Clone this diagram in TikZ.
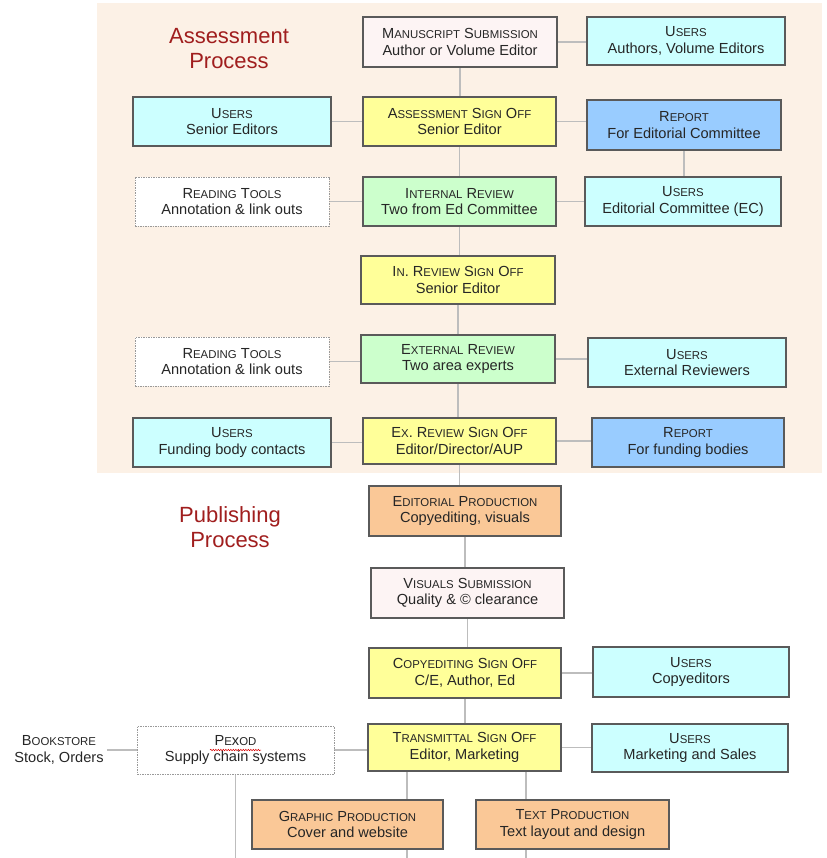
\documentclass[tikz,border=0pt]{standalone}
\usepackage{fontspec}
\setmainfont{Liberation Sans}
\usetikzlibrary{decorations.pathmorphing}
\definecolor{beige}{HTML}{FCF1E6}
\definecolor{boxline}{HTML}{5A5A5A}
\definecolor{txt}{HTML}{262626}
\definecolor{conline}{HTML}{BDBDBD}
\definecolor{cuser}{HTML}{CCFFFF}
\definecolor{csign}{HTML}{FFFF99}
\definecolor{creport}{HTML}{99CCFF}
\definecolor{creview}{HTML}{CCFFCC}
\definecolor{cprod}{HTML}{FAC897}
\definecolor{csubm}{HTML}{FDF4F4}
\definecolor{ttl}{HTML}{A01E1E}
\pgfdeclarelayer{bg}\pgfdeclarelayer{conn}\pgfsetlayers{bg,conn,main}
\newcommand\smc[1]{{\fontsize{11.4}{17}\selectfont #1}}
\begin{document}
\begin{tikzpicture}[x=1pt,y=-1pt,
  box/.style={draw=boxline, line width=1.2pt, inner sep=0pt, align=center, text=txt,
    font=\fontsize{14.6}{16.8}\selectfont, minimum height=49pt, minimum width=194pt},
  users/.style={box, fill=cuser},
  signoff/.style={box, fill=csign},
  report/.style={box, fill=creport},
  review/.style={box, fill=creview},
  prod/.style={box, fill=cprod},
  subm/.style={box, fill=csubm},
  tool/.style={box, fill=white, draw=gray!80, line width=0.9pt, dash pattern=on 1.5pt off 1pt},
  plain/.style={inner sep=3pt, align=center, text=txt, font=\fontsize{14.6}{16.8}\selectfont},
  title/.style={align=center, text=ttl, font=\fontsize{22}{25}\selectfont},
  conn/.style={draw=conline, line width=1.5pt}]
\useasboundingbox (0,0) rectangle (826,858);
\begin{pgfonlayer}{bg}
  \fill[beige] (97,3) rectangle (822,473);
\end{pgfonlayer}

\node[title] (tA) at (229,49) {Assessment\\Process};
\node[title] (tP) at (230,527) {Publishing\\Process};

% Assessment
\node[subm, minimum width=194pt, minimum height=50pt] (ms) at (460,42) {M\smc{ANUSCRIPT} S\smc{UBMISSION}\\Author or Volume Editor};
\node[users, minimum width=198pt, minimum height=48pt] (uA) at (686,41) {U\smc{SERS}\\Authors, Volume Editors};
\node[users, minimum width=198pt] (uSE) at (232,121.5) {U\smc{SERS}\\Senior Editors};
\node[signoff, minimum width=193pt] (aso) at (459.5,121.5) {A\smc{SSESSMENT} S\smc{IGN} O\smc{FF}\\Senior Editor};
\node[report, minimum width=194pt, minimum height=50pt] (rEC) at (684,125) {R\smc{EPORT}\\For Editorial Committee};
\node[tool] (rt1) at (232,201.5) {R\smc{EADING} T\smc{OOLS}\\Annotation \& link outs};
\node[review, minimum width=193pt] (ir) at (459.5,201.5) {I\smc{NTERNAL} R\smc{EVIEW}\\Two from Ed Committee};
\node[users, minimum width=196pt] (uEC) at (683,201.5) {U\smc{SERS}\\Editorial Committee (EC)};
\node[signoff, minimum height=48pt] (irs) at (458,280) {I\smc{N}. R\smc{EVIEW} S\smc{IGN} O\smc{FF}\\Senior Editor};
\node[tool] (rt2) at (232,361.5) {R\smc{EADING} T\smc{OOLS}\\Annotation \& link outs};
\node[review, minimum height=48pt] (ext) at (458,359) {E\smc{XTERNAL} R\smc{EVIEW}\\Two area experts};
\node[users, minimum width=198pt] (uER) at (687,362.5) {U\smc{SERS}\\External Reviewers};
\node[users, minimum width=198pt] (uFB) at (232,442.5) {U\smc{SERS}\\Funding body contacts};
\node[signoff, minimum width=193pt, minimum height=46pt] (exs) at (459.5,441) {E\smc{X}. R\smc{EVIEW} S\smc{IGN} O\smc{FF}\\Editor/Director/AUP};
\node[report, minimum width=192pt] (rFB) at (688,442.5) {R\smc{EPORT}\\For funding bodies};

% Publishing
\node[prod, minimum width=192pt, minimum height=50pt] (ep) at (465,511) {E\smc{DITORIAL} P\smc{RODUCTION}\\Copyediting, visuals};
\node[subm, minimum width=193pt, minimum height=50pt] (vs) at (467.5,593) {V\smc{ISUALS} S\smc{UBMISSION}\\Quality \& \textcopyright\ clearance};
\node[signoff, minimum width=192pt, minimum height=50pt] (cso) at (465,673) {C\smc{OPYEDITING} S\smc{IGN} O\smc{FF}\\C/E, Author, Ed};
\node[users, minimum width=196pt, minimum height=50pt] (uCE) at (691,672) {U\smc{SERS}\\Copyeditors};
\node[signoff, minimum width=193pt, minimum height=47pt] (tso) at (464.5,747.5) {T\smc{RANSMITTAL} S\smc{IGN} O\smc{FF}\\Editor, Marketing};
\node[users, minimum width=196pt, minimum height=48pt] (uMS) at (690,748) {U\smc{SERS}\\Marketing and Sales};
\node[tool, minimum width=197pt, minimum height=48pt] (pex) at (235.5,750) {P\smc{E}x\smc{OD}\\Supply chain systems};
\node[plain] (bk) at (59,750) {B\smc{OOKSTORE}\\Stock, Orders};
\node[prod, minimum width=191pt] (gp) at (347.5,824.5) {G\smc{RAPHIC} P\smc{RODUCTION}\\Cover and website};
\node[prod, minimum width=193pt] (tp) at (572.5,824.5) {T\smc{EXT} P\smc{RODUCTION}\\Text layout and design};

\draw[red!85!black, line width=0.5pt, decorate, decoration={snake, amplitude=0.7pt, segment length=2.5pt}] (210,750) -- (261,750);

\coordinate (g1) at (407,858);
\coordinate (t1) at (526,858);
\coordinate (p1) at (235.5,858);

\begin{pgfonlayer}{conn}
  % spine
  \draw[conn] (ms.south) -- (ms.south |- aso.north);
  \draw[conn] (aso.south) -- (aso.south |- ir.north);
  \draw[conn] (ir.south) -- (ir.south |- irs.north);
  \draw[conn] (irs.south) -- (irs.south |- ext.north);
  \draw[conn] (ext.south) -- (ext.south |- exs.north);
  \draw[conn] (exs.south) -- (exs.south |- ep.north);
  \draw[conn] (ep.south) -- (ep.south |- vs.north);
  \draw[conn] (vs.south) -- (vs.south |- cso.north);
  \draw[conn] (cso.south) -- (cso.south |- tso.north);
  % side links
  \draw[conn] (ms.east) -- (ms.east -| uA.west);
  \draw[conn] (uSE.east) -- (uSE.east -| aso.west);
  \draw[conn] (aso.east) -- (aso.east -| rEC.west);
  \draw[conn] (rEC.south) -- (rEC.south |- uEC.north);
  \draw[conn] (rt1.east) -- (rt1.east -| ir.west);
  \draw[conn] (ir.east) -- (ir.east -| uEC.west);
  \draw[conn] (rt2.east) -- (rt2.east -| ext.west);
  \draw[conn] (ext.east) -- (ext.east -| uER.west);
  \draw[conn] (uFB.east) -- (uFB.east -| exs.west);
  \draw[conn] (exs.east) -- (exs.east -| rFB.west);
  \draw[conn] (cso.east) -- (cso.east -| uCE.west);
  \draw[conn] (tso.east) -- (tso.east -| uMS.west);
  \draw[conn] (pex.east) -- (pex.east -| tso.west);
  \draw[conn] (bk.east) -- (bk.east -| pex.west);
  % downward
  \draw[conn] (pex.south) -- (p1);
  \draw[conn] (tso.south -| g1) -- (g1);
  \draw[conn] (tso.south -| t1) -- (t1);
\end{pgfonlayer}
\end{tikzpicture}
\end{document}
